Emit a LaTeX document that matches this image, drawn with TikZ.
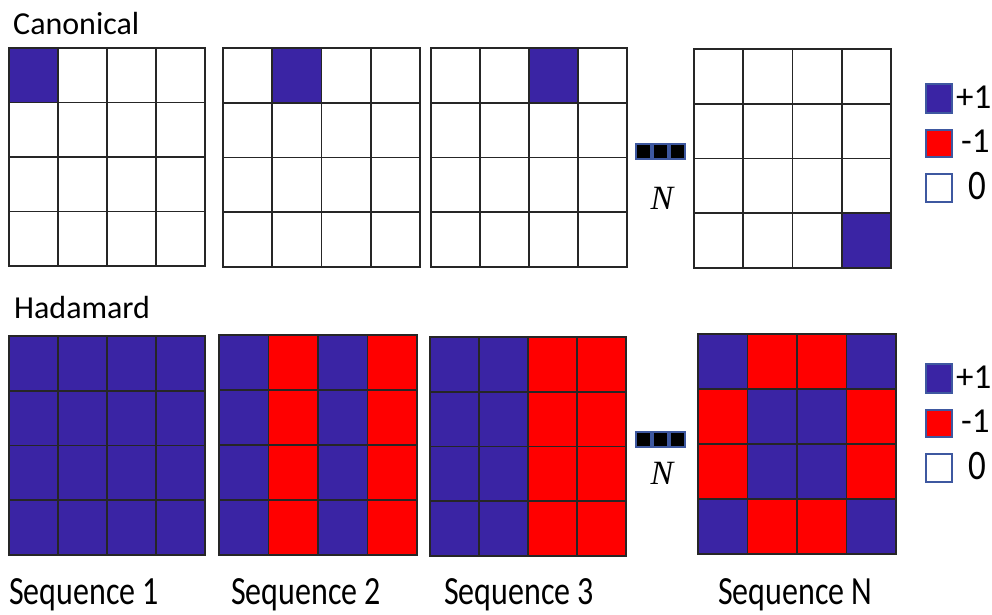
\documentclass[tikz,border=0pt]{standalone}
\usepackage{fontspec}
\setmainfont{Carlito}
\newfontfamily\serifN{Liberation Serif}

\definecolor{cB}{RGB}{58,36,164}
\definecolor{cR}{RGB}{255,0,0}
\colorlet{cW}{white}
\definecolor{keyedge}{RGB}{62,88,160}

\tikzset{
  gridline/.style={draw=black!85, line width=1.6pt},
  keybox/.style={line width=1.4pt, draw=keyedge},
  dotbox/.style={fill=black, draw=keyedge, line width=1.2pt},
  heading/.style={anchor=base west, inner sep=0pt, font=\fontsize{32}{38}\selectfont},
  keytext/.style={anchor=base west, inner sep=0pt, font=\fontsize{35}{40}\selectfont},
  seqlabel/.style={anchor=base west, inner sep=0pt, font=\fontsize{32}{38}\selectfont},
  ntext/.style={anchor=base, inner sep=0pt, font=\fontsize{34}{40}\selectfont\serifN\itshape},
}

% 4x4 grid of cells: #1,#2 top-left corner, #3 width, #4 height, #5 sixteen fills row by row
\newcommand{\cellgrid}[5]{%
  \begin{scope}[shift={(#1,#2)}]
    \foreach \c [count=\k from 0] in {#5} {
      \pgfmathtruncatemacro\rw{int(\k/4)}
      \pgfmathtruncatemacro\cl{mod(\k,4)}
      \fill[\c] (\cl*#3/4, \rw*#4/4) rectangle ++(#3/4, #4/4);
    }
    \foreach \i in {1,2,3} {
      \draw[gridline] (\i*#3/4, 0) -- (\i*#3/4, #4);
      \draw[gridline] (0, \i*#4/4) -- (#3, \i*#4/4);
    }
    \draw[gridline] (0,0) rectangle (#3,#4);
  \end{scope}}

% legend: #1 vertical offset
\newcommand{\valuekey}[1]{%
  \begin{scope}[yshift=-#1pt]
    \draw[keybox, fill=cB] (926,84) rectangle (952,113);
    \draw[keybox, fill=cR] (926,130) rectangle (952,157);
    \draw[keybox, fill=white] (926,174) rectangle (952,202);
    \node[keytext] at (956,108) {+1};
    \node[keytext] at (961,152) {-1};
    \node[keytext, yscale=1.2] at (968,199) {0};
  \end{scope}}

% ellipsis marks with N below: #1 top of marks, #2 baseline of N
\newcommand{\moremark}[2]{%
  \draw[dotbox] (636,#1) rectangle ++(15,15);
  \draw[dotbox] (653,#1) rectangle ++(15,15);
  \draw[dotbox] (670,#1) rectangle ++(15,15);
  \node[ntext] at (662,#2) {N};}

\begin{document}
\begin{tikzpicture}[x=1pt, y=-1pt]
  \useasboundingbox (0,0) rectangle (992,614);

  % canonical basis
  \node[heading] (canon) at (13,34) {Canonical};
  \cellgrid{9}{48}{196}{218}{cB,cW,cW,cW, cW,cW,cW,cW, cW,cW,cW,cW, cW,cW,cW,cW}
  \cellgrid{223}{48}{197}{219}{cW,cB,cW,cW, cW,cW,cW,cW, cW,cW,cW,cW, cW,cW,cW,cW}
  \cellgrid{431}{48}{196}{219}{cW,cW,cB,cW, cW,cW,cW,cW, cW,cW,cW,cW, cW,cW,cW,cW}
  \cellgrid{694}{49}{197}{219}{cW,cW,cW,cW, cW,cW,cW,cW, cW,cW,cW,cW, cW,cW,cW,cB}
  \moremark{144}{209}
  \valuekey{0}

  % Hadamard basis
  \node[heading] (hada) at (14,318) {Hadamard};
  \cellgrid{9}{336}{196}{219}{cB,cB,cB,cB, cB,cB,cB,cB, cB,cB,cB,cB, cB,cB,cB,cB}
  \cellgrid{219}{335}{198}{220}{cB,cR,cB,cR, cB,cR,cB,cR, cB,cR,cB,cR, cB,cR,cB,cR}
  \cellgrid{430}{337}{196}{219}{cB,cB,cR,cR, cB,cB,cR,cR, cB,cB,cR,cR, cB,cB,cR,cR}
  \cellgrid{698}{334}{198}{220}{cB,cR,cR,cB, cR,cB,cB,cR, cR,cB,cB,cR, cB,cR,cR,cB}
  \moremark{432}{484}
  \valuekey{280}

  % sequence labels
  \node[seqlabel, yscale=1.25] (s1) at (9,604) {Sequence 1};
  \node[seqlabel, yscale=1.25] (s2) at (231,604) {Sequence 2};
  \node[seqlabel, yscale=1.25] (s3) at (444,604) {Sequence 3};
  \node[seqlabel, yscale=1.25] (sn) at (718,604) {Sequence N};
\end{tikzpicture}
\end{document}
